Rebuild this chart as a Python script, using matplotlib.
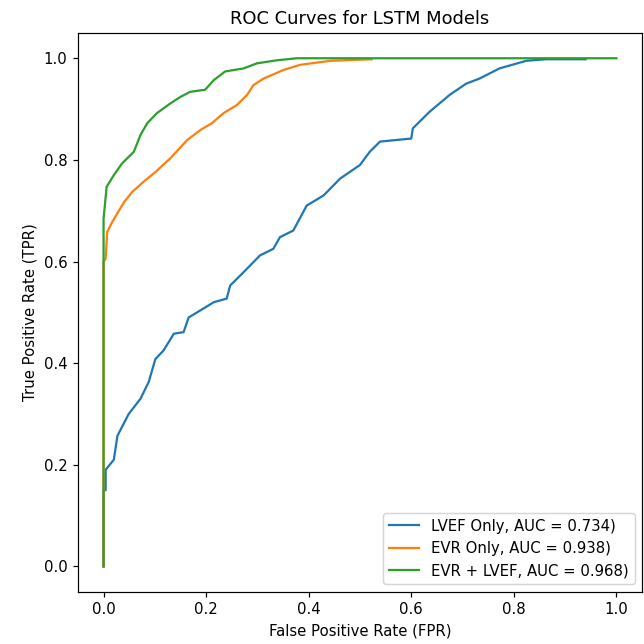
import matplotlib
matplotlib.use("Agg")
import matplotlib.pyplot as plt

# ROC points (FPR, TPR)
lvef_fpr = [0.0, 0.0, 0.004, 0.004, 0.02, 0.027, 0.049, 0.072, 0.088, 0.101, 0.117,
            0.137, 0.156, 0.166, 0.189, 0.215, 0.24, 0.247, 0.273, 0.305, 0.331,
            0.344, 0.37, 0.396, 0.429, 0.461, 0.5, 0.519, 0.539, 0.6, 0.603, 0.636,
            0.675, 0.707, 0.733, 0.772, 0.824, 0.863, 0.94]
lvef_tpr = [0.0, 0.15, 0.15, 0.19, 0.21, 0.257, 0.30, 0.33, 0.363, 0.408, 0.425,
            0.458, 0.461, 0.49, 0.504, 0.52, 0.527, 0.553, 0.579, 0.612, 0.625,
            0.648, 0.661, 0.71, 0.73, 0.763, 0.79, 0.816, 0.836, 0.842, 0.862, 0.895,
            0.928, 0.95, 0.96, 0.98, 0.995, 0.998, 0.998]

evr_fpr = [0.0, 0.0, 0.004, 0.007, 0.017, 0.04, 0.056, 0.078, 0.101, 0.13, 0.163,
           0.189, 0.211, 0.234, 0.26, 0.28, 0.292, 0.312, 0.351, 0.383, 0.442, 0.523]
evr_tpr = [0.0, 0.6, 0.605, 0.658, 0.678, 0.717, 0.737, 0.757, 0.776, 0.803, 0.839,
           0.859, 0.872, 0.892, 0.908, 0.928, 0.947, 0.96, 0.977, 0.987, 0.995, 0.998]

both_fpr = [0.0, 0.0, 0.006, 0.02, 0.036, 0.059, 0.072, 0.085, 0.104, 0.13, 0.15,
            0.169, 0.198, 0.215, 0.237, 0.273, 0.299, 0.338, 0.377, 1.0]
both_tpr = [0.0, 0.684, 0.747, 0.77, 0.793, 0.816, 0.849, 0.872, 0.892, 0.911, 0.924,
            0.934, 0.938, 0.957, 0.974, 0.98, 0.99, 0.996, 1.0, 1.0]

labels = ["LVEF Only, AUC = 0.734)", "EVR Only, AUC = 0.938)", "EVR + LVEF, AUC = 0.968)"]

fig = plt.figure(figsize=(6, 6), dpi=644 / 6)
ax = fig.add_axes([0.121, 0.081, 0.876, 0.868])

ax.plot(lvef_fpr, lvef_tpr, label=labels[0])
ax.plot(evr_fpr, evr_tpr, label=labels[1])
ax.plot(both_fpr, both_tpr, label=labels[2])

ax.set_title("ROC Curves for LSTM Models")
ax.set_xlabel("False Positive Rate (FPR)")
ax.set_ylabel("True Positive Rate (TPR)")
ax.legend(loc="lower right")

fig.savefig("out.png", dpi=644 / 6)
